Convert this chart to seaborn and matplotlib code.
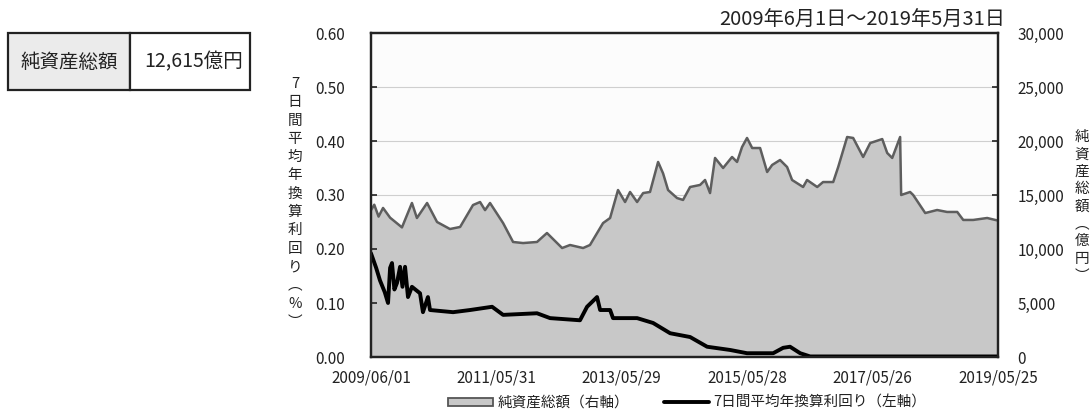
import matplotlib
matplotlib.use("Agg")
import matplotlib.pyplot as plt
from matplotlib.patches import Rectangle, Patch
from matplotlib.lines import Line2D
import seaborn as sns
import pandas as pd

# ---------------- data ----------------
asset_dates = [
    "2009-06-01", "2009-06-20", "2009-07-15", "2009-08-10", "2009-09-20", "2009-11-28",
    "2010-01-25", "2010-02-23", "2010-04-23", "2010-06-20", "2010-09-03", "2010-11-01",
    "2011-01-15", "2011-02-25", "2011-03-26", "2011-04-24", "2011-07-09", "2011-09-05",
    "2011-11-02", "2012-01-22", "2012-03-20", "2012-06-16", "2012-08-01", "2012-10-16",
    "2012-11-25", "2013-02-09", "2013-03-22", "2013-05-07", "2013-06-17", "2013-07-16",
    "2013-08-26", "2013-09-30", "2013-11-09", "2013-12-26", "2014-01-24", "2014-02-22",
    "2014-04-15", "2014-05-20", "2014-06-30", "2014-08-27", "2014-09-25", "2014-10-24",
    "2014-11-22", "2015-01-08", "2015-03-01", "2015-03-30", "2015-04-28", "2015-05-27",
    "2015-06-26", "2015-08-11", "2015-09-21", "2015-10-20", "2015-12-05", "2016-01-15",
    "2016-02-13", "2016-04-17", "2016-05-10", "2016-07-08", "2016-08-11", "2016-10-09",
    "2016-11-07", "2016-12-29", "2017-02-02", "2017-04-01", "2017-05-12", "2017-07-21",
    "2017-08-19", "2017-09-17", "2017-11-02", "2017-11-08", "2017-12-30", "2018-01-17",
    "2018-03-28", "2018-06-05", "2018-08-02", "2018-09-30", "2018-11-04", "2019-01-01",
    "2019-03-23", "2019-05-09", "2019-05-31",
]
asset_values = [
    13600, 14100, 13000, 13800, 12900, 12000,
    14260, 12870, 14260, 12500, 11850, 12040,
    14070, 14350, 13600, 14260, 12400, 10650,
    10550, 10650, 11480, 10090, 10370, 10090,
    10370, 12400, 12870, 15460, 14350, 15280,
    14350, 15180, 15280, 18060, 17000, 15460,
    14720, 14540, 15740, 15930, 16390, 15180,
    18430, 17500, 18520, 18060, 19440, 20280,
    19350, 19350, 17130, 17780, 18240, 17590,
    16390, 15740, 16390, 15740, 16200, 16200,
    17590, 20370, 20280, 18520, 19810, 20180,
    18890, 18430, 20370, 15000, 15280, 15000,
    13330, 13610, 13430, 13430, 12690, 12690,
    12870, 12690, 12615,
]

yield_dates = [
    "2009-06-01", "2009-07-01", "2009-07-23", "2009-08-20", "2009-09-08", "2009-09-20",
    "2009-10-01", "2009-10-15", "2009-10-30", "2009-11-17", "2009-12-01", "2009-12-16",
    "2010-01-02", "2010-01-25", "2010-03-13", "2010-03-30", "2010-04-28", "2010-05-10",
    "2010-09-21", "2010-12-29", "2011-05-06", "2011-07-09", "2012-01-22", "2012-04-07",
    "2012-09-28", "2012-11-08", "2013-01-05", "2013-01-23", "2013-03-22", "2013-04-08",
    "2013-08-26", "2013-11-27", "2014-03-06", "2014-06-30", "2014-10-07", "2015-02-18",
    "2015-05-27", "2015-10-26", "2015-12-23", "2016-02-01", "2016-03-31", "2016-05-28",
    "2019-05-31",
]
yield_values = [
    0.192, 0.165, 0.142, 0.120, 0.100, 0.165,
    0.174, 0.125, 0.137, 0.167, 0.130, 0.167,
    0.111, 0.130, 0.118, 0.083, 0.111, 0.087,
    0.083, 0.087, 0.093, 0.078, 0.081, 0.072,
    0.068, 0.093, 0.111, 0.087, 0.087, 0.072,
    0.072, 0.063, 0.044, 0.037, 0.019, 0.013,
    0.007, 0.007, 0.017, 0.019, 0.007, 0.001,
    0.001,
]

x_tick_labels = ["2009/06/01", "2011/05/31", "2013/05/29", "2015/05/28", "2017/05/26", "2019/05/25"]
left_ticks = [0.0, 0.1, 0.2, 0.3, 0.4, 0.5, 0.6]
right_ticks = [0, 5000, 10000, 15000, 20000, 25000, 30000]

title_text = "2009年6月1日～2019年5月31日"
table_label = "純資産総額"
table_value = "12,615億円"
left_ylabel = ["7", "日", "間", "平", "均", "年", "換", "算", "利", "回", "り", "︵", "%", "︶"]
right_ylabel = ["純", "資", "産", "総", "額", "︵", "億", "円", "︶"]
legend_labels = ["純資産総額（右軸）", "7日間平均年換算利回り（左軸）"]

# ---------------- style ----------------
sns.set_style("white")
plt.rcParams["font.family"] = ["Noto Sans CJK JP", "DejaVu Sans"]
TXT = "#222222"

fig = plt.figure(figsize=(10.9, 4.12), dpi=100)
W, H = 1090.0, 412.0
ax = fig.add_axes([371 / W, 1 - 357 / H, (998 - 371) / W, (357 - 33) / H])
ax.set_facecolor("#fcfcfc")

ad = pd.to_datetime(asset_dates)
yd = pd.to_datetime(yield_dates)
xt = pd.to_datetime(x_tick_labels, format="%Y/%m/%d")

# area (right-axis values) on main axes
ax.fill_between(ad, asset_values, 0, color="#c8c8c8", zorder=2, linewidth=0)
sns.lineplot(x=ad, y=asset_values, ax=ax, color="#5e5e5e", linewidth=1.8, zorder=3)
ax.set_ylim(0, 30000)
ax.set_yticks(right_ticks)
ax.set_yticklabels([f"{v:,}" for v in right_ticks])
ax.grid(axis="y", color="#cfcfcf", linewidth=0.8, zorder=1)
ax.grid(axis="x", visible=False)
ax.set_axisbelow(True)
ax.set_xlabel("")
ax.set_ylabel("")

# yield on twin axes, ticks on left
ax2 = ax.twinx()
sns.lineplot(x=yd, y=yield_values, ax=ax2, color="black", linewidth=2.8)
ax2.set_ylim(0, 0.6)
ax2.set_yticks(left_ticks)
ax2.set_yticklabels([f"{v:.2f}" for v in left_ticks])
ax2.set_ylabel("")
ax2.set_xlabel("")

for a in (ax, ax2):
    a.set_xlim(xt[0], xt[-1])
    a.set_xticks(xt)
    a.set_xticklabels(x_tick_labels)
    for s in a.spines.values():
        s.set_color("#222222")
        s.set_linewidth(1.6)
        s.set_visible(True)

ax.tick_params(axis="x", direction="in", length=4, width=1.2, color="#222222",
               labelsize=11, labelcolor=TXT, pad=9)
ax2.tick_params(axis="x", bottom=False, labelbottom=False, top=False, labeltop=False)
ax.tick_params(axis="y", direction="in", length=4, width=1.2, color="#222222",
               labelsize=11, labelcolor=TXT, pad=14,
               right=True, labelright=True, left=False, labelleft=False)
ax2.tick_params(axis="y", direction="in", length=4, width=1.2, color="#222222",
                labelsize=11, labelcolor=TXT, pad=19,
                left=True, labelleft=True, right=False, labelright=False)

# title
fig.text(1005 / W, 1 - 20 / H, title_text, ha="right", va="center", fontsize=14.5, color=TXT)

# vertical axis labels
for i, ch in enumerate(left_ylabel):
    fig.text(295 / W, 1 - (84 + i * 18.3) / H, ch, ha="center", va="center",
             fontsize=10.5, color=TXT)
for i, ch in enumerate(right_ylabel):
    fig.text(1082 / W, 1 - (137 + i * 17.4) / H, ch, ha="center", va="center",
             fontsize=10.5, color=TXT)

# table box
fig.add_artist(Rectangle((8 / W, 1 - 90 / H), 122 / W, 57 / H, transform=fig.transFigure,
                         facecolor="#ebebeb", edgecolor="#222222", linewidth=1.6))
fig.add_artist(Rectangle((130 / W, 1 - 90 / H), 120 / W, 57 / H, transform=fig.transFigure,
                         facecolor="white", edgecolor="#222222", linewidth=1.6))
fig.text(69 / W, 1 - 62 / H, table_label, ha="center", va="center", fontsize=14, color=TXT)
fig.text(194 / W, 1 - 62 / H, table_value, ha="center", va="center", fontsize=14, color=TXT)

# legend
handles = [
    Patch(facecolor="#c8c8c8", edgecolor="#555555", linewidth=1.3),
    Line2D([0], [0], color="black", linewidth=2.8),
]
fig.legend(handles, legend_labels, loc="center", bbox_to_anchor=(687 / W, 1 - 403 / H),
           ncol=2, frameon=False, fontsize=10.5, handlelength=3.1, handleheight=0.5,
           handletextpad=0.3, columnspacing=2.4, labelcolor=TXT)

fig.savefig("out.png", dpi=100)
